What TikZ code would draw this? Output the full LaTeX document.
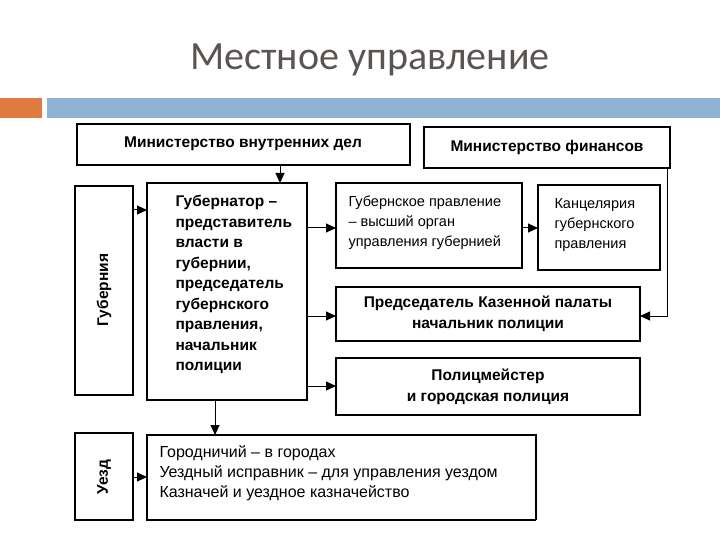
\documentclass[tikz,border=0pt]{standalone}
\usepackage{fontspec}
\setmainfont{Liberation Sans}
\newfontfamily\titlefont{Carlito}
\usetikzlibrary{arrows.meta}
\definecolor{bar}{HTML}{8FB3D3}
\definecolor{org}{HTML}{E07B40}
\definecolor{ttl}{HTML}{5A5452}
\begin{document}
\begin{tikzpicture}[x=1pt,y=-1pt,
  bx/.style={draw,line width=1.1pt,inner sep=0pt},
  ar/.style={line width=1pt,-{Triangle[length=10pt,width=9pt]}},
  bt/.style={font=\bfseries\fontsize{15.5}{20.5}\selectfont},
  rt/.style={font=\fontsize{14.5}{20}\selectfont}]
\useasboundingbox (0,0) rectangle (720,540);
\node[text=ttl,font=\titlefont\fontsize{40}{46}\selectfont] (title) at (370,60) {Местное управление};
\fill[org] (0,98) rectangle (42,118);
\fill[bar] (47,98) rectangle (720,118);
% boxes
\draw[bx] (77,124) rectangle (410,165);
\node[bt] (mvd) at (243,144) {Министерство внутренних дел};
\draw[bx] (424,127) rectangle (670,168);
\node[bt] (mf) at (547,147) {Министерство финансов};
\draw[bx] (75,186) rectangle (133,395);
\node[bt,rotate=90] (gub) at (104,290) {Губерния};
\draw[bx] (147,183) rectangle (307,400);
\node[bt,align=left,anchor=north west] (gov) at (172,192) {Губернатор –\\представитель\\власти в\\губернии,\\председатель\\губернского\\правления,\\начальник\\полиции};
\draw[bx] (336,183) rectangle (522,268);
\node[rt,align=left,anchor=north west] (gp) at (345,192) {Губернское правление\\– высший орган\\управления губернией};
\draw[bx] (538,185) rectangle (660,270);
\node[rt,align=left,anchor=north west] (kanc) at (551,195) {Канцелярия\\губернского\\правления};
\draw[bx] (336,287) rectangle (640,341);
\node[bt,align=center] (pred) at (488,314) {Председатель Казенной палаты\\начальник полиции};
\draw[bx] (336,358) rectangle (640,415);
\node[bt,align=center] (pol) at (488,387) {Полицмейстер\\и городская полиция};
\draw[bx] (75,433) rectangle (133,520);
\node[bt,rotate=90] (uezd) at (104,477) {Уезд};
\draw[bx] (536,520) -- (536,435) -- (147,435) -- (147,520) -- (536,520);
\node[rt,align=left,anchor=north west,font=\fontsize{16}{20}\selectfont] (gor) at (156,442) {Городничий – в городах\\Уездный исправник – для управления уездом\\Казначей и уездное казначейство};
% arrows
\coordinate (a1) at (280,165); \coordinate (a1e) at (280,183);
\draw[ar] (a1) -- (a1e);
\coordinate (b1) at (133,210); \coordinate (b1e) at (147,210);
\draw[ar] (b1) -- (b1e);
\coordinate (c0) at (307,228); \coordinate (c0e) at (336,228);
\draw[ar] (c0) -- (c0e);
\coordinate (c1) at (307,316); \coordinate (c1e) at (336,316);
\draw[ar] (c1) -- (c1e);
\coordinate (c2) at (307,386); \coordinate (c2e) at (336,386);
\draw[ar] (c2) -- (c2e);
\coordinate (d0) at (522,228); \coordinate (d0e) at (538,228);
\draw[ar] (d0) -- (d0e);
\coordinate (f0) at (667,168); \coordinate (f1) at (667,316); \coordinate (f1e) at (640,316);
\draw[ar] (f0) -- (f1) -- (f1e);
\coordinate (g0) at (215,400); \coordinate (g0e) at (215,435);
\draw[ar] (g0) -- (g0e);
\coordinate (u0) at (133,477); \coordinate (u0e) at (147,477);
\draw[ar] (u0) -- (u0e);
\end{tikzpicture}
\end{document}
